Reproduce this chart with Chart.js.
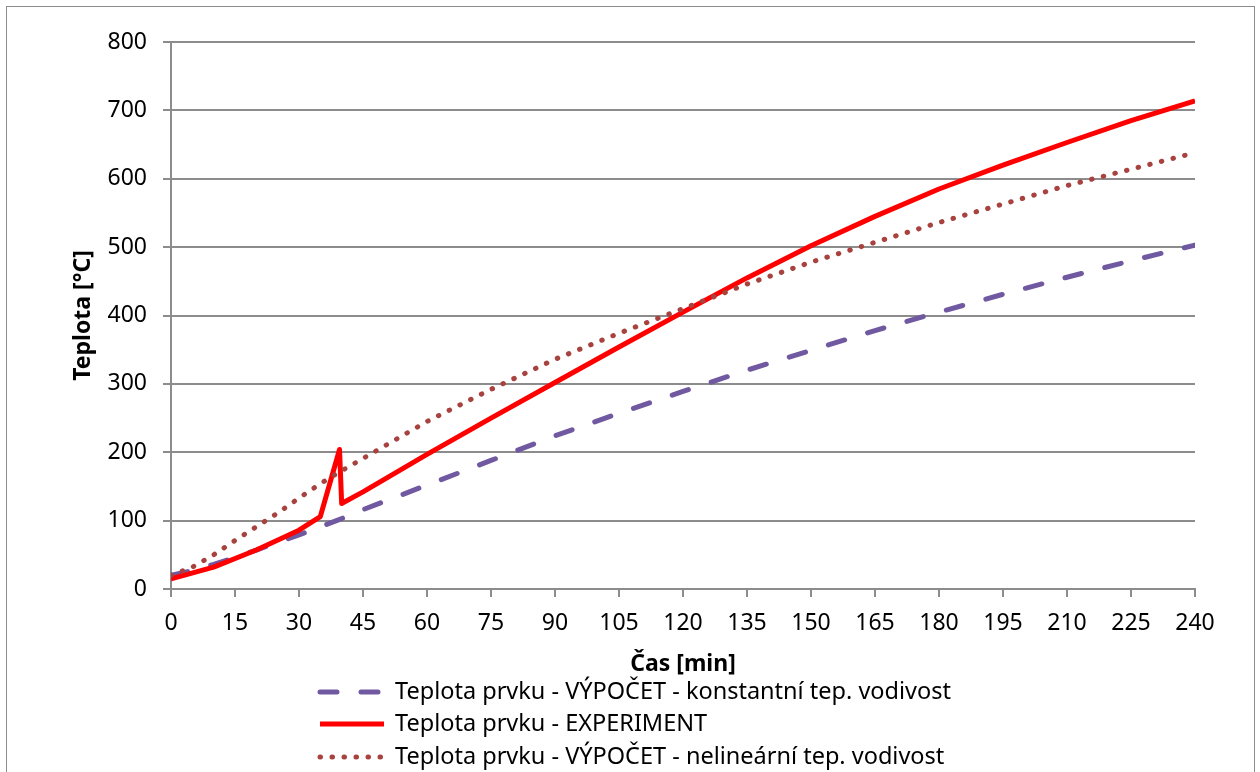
<!DOCTYPE html>
<html>
<head>
<meta charset="utf-8">
<script src="https://cdn.jsdelivr.net/npm/chart.js@4.4.0/dist/chart.umd.min.js"></script>
<style>
  html, body { margin: 0; padding: 0; background: #fff; }
  #wrap { position: relative; width: 1260px; height: 772px; overflow: hidden; }
  #frame { position: absolute; left: 6px; top: 6px; width: 1249px; height: 820px;
           border: 1.5px solid #8c8c8c; box-sizing: border-box; }
  #chart { position: absolute; left: 0; top: 0; }
</style>
</head>
<body>
<div id="wrap">
  <div id="frame"></div>
  <canvas id="chart" width="1260" height="772"></canvas>
</div>
<script>
// časy výpočtu [min]
const calcTime = [0, 5, 10, 15, 20, 25, 30, 35, 40, 45, 60, 75, 90, 105, 120, 135, 150, 165, 180, 195, 210, 225, 240];
// výpočet - konstantní tepelná vodivost [°C]
const constTemp = [20, 27, 36, 46, 57, 68, 79, 91, 103, 116, 152, 188, 224, 257, 289, 320, 349, 378, 405, 431, 456, 480, 503];
// výpočet - nelineární tepelná vodivost [°C]
const nonlinTemp = [20, 32, 50, 71, 91, 111, 133, 154, 173, 191, 245, 292, 336, 374, 410, 446, 478, 507, 536, 563, 590, 614, 638];
// experiment - časy a teploty
const expTime = [0, 10, 20, 30, 35, 39.5, 40, 45, 60, 75, 90, 105, 120, 135, 150, 165, 180, 195, 210, 225, 240];
const expTemp = [15, 32, 57, 86, 106, 204, 125, 142, 197, 250, 302, 354, 405, 455, 502, 545, 585, 620, 653, 685, 714];

const seriesLabels = [
  'Teplota prvku - VÝPOČET - konstantní tep. vodivost',
  'Teplota prvku - EXPERIMENT',
  'Teplota prvku - VÝPOČET - nelineární tep. vodivost'
];

const gridColor = '#8c8c8c';
const toPoints = (xs, ys) => xs.map((x, i) => ({ x: x, y: ys[i] }));

Chart.defaults.font.family = '"Noto Sans", "Open Sans", sans-serif';
Chart.defaults.font.size = 23;
Chart.defaults.color = '#000';

// legenda pod grafem: každá řada na vlastním řádku
const rowLegend = {
  id: 'rowLegend',
  afterDraw(chart) {
    const ctx = chart.ctx;
    const rows = [692, 724, 757];
    chart.data.datasets.forEach((ds, i) => {
      const y = rows[i];
      ctx.save();
      ctx.strokeStyle = ds.borderColor;
      ctx.lineWidth = ds.borderWidth;
      ctx.lineCap = ds.borderCapStyle || 'butt';
      ctx.setLineDash(ds.borderDash || []);
      ctx.beginPath();
      ctx.moveTo(320, y);
      ctx.lineTo(384, y);
      ctx.stroke();
      ctx.setLineDash([]);
      ctx.fillStyle = '#000';
      ctx.font = '23.5px "Noto Sans", "Open Sans", sans-serif';
      ctx.textBaseline = 'middle';
      ctx.fillText(ds.label, 395, y);
      ctx.restore();
    });
  }
};

new Chart(document.getElementById('chart'), {
  type: 'line',
  data: {
    datasets: [
      {
        label: seriesLabels[0],
        data: toPoints(calcTime, constTemp),
        borderColor: '#7059a0',
        borderWidth: 5,
        borderDash: [17, 24],
        borderCapStyle: 'round',
        order: 3
      },
      {
        label: seriesLabels[1],
        data: toPoints(expTime, expTemp),
        borderColor: '#ff0000',
        borderWidth: 5,
        borderJoinStyle: 'round',
        order: 2
      },
      {
        label: seriesLabels[2],
        data: toPoints(calcTime, nonlinTemp),
        borderColor: '#a8423f',
        borderWidth: 5,
        borderDash: [0.5, 11.5],
        borderCapStyle: 'round',
        order: 1
      }
    ]
  },
  options: {
    responsive: false,
    animation: false,
    devicePixelRatio: 1,
    layout: { padding: { left: 0, top: 42, right: 65, bottom: 93 } },
    elements: { point: { radius: 0 }, line: { tension: 0 } },
    plugins: {
      legend: { display: false },
      tooltip: { enabled: false }
    },
    scales: {
      x: {
        type: 'linear',
        min: 0,
        max: 240,
        ticks: { stepSize: 15, padding: 13, maxRotation: 0 },
        grid: { drawOnChartArea: false, drawTicks: true, tickLength: 8, color: gridColor, lineWidth: 2 },
        border: { color: gridColor, width: 2 },
        title: { display: true, text: 'Čas [min]', font: { weight: 'bold' }, padding: { top: 0, bottom: 1 } },
        afterFit(scale) { scale.height = 90; }
      },
      y: {
        min: 0,
        max: 800,
        ticks: { stepSize: 100, padding: 16 },
        grid: { color: gridColor, lineWidth: 2, tickLength: 8 },
        border: { color: gridColor, width: 2 },
        title: { display: true, text: 'Teplota [°C]', font: { weight: 'bold' }, padding: { top: 70, bottom: 0 } },
        afterFit(scale) { scale.width = 171; }
      }
    }
  },
  plugins: [rowLegend]
});
</script>
</body>
</html>
